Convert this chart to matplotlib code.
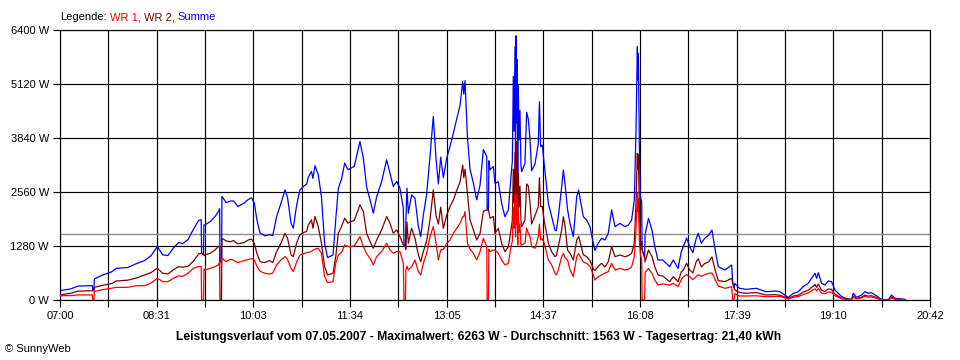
import matplotlib
matplotlib.use("Agg")
import matplotlib.pyplot as plt
import numpy as np

plt.rcParams['font.family'] = ['Liberation Sans', 'DejaVu Sans']

# time in minutes after 07:00
minutes = [
    0, 10, 17, 30.5, 31, 32, 32.5, 39, 49, 53, 64, 72, 80, 86, 92, 97, 102, 107, 112, 116,
    121, 126, 131, 133.4, 133.8, 135.6, 136,
    137, 142, 146.5, 149.6, 150.8, 151.2, 152.6, 153, 157, 161, 164, 168, 174, 178, 181, 183.6,
    186, 189, 193.7, 198, 201, 204.7, 208.8, 212.6, 215, 218.3, 220.4, 223.6, 226.6, 229.9, 233,
    234.6, 237.6, 239, 240.9, 244, 247, 250, 252.8, 258, 260.5, 263, 266, 269, 272, 275, 278,
    283.4, 286.6, 289.7, 292.9, 296.0, 299.2, 303.9, 308.6, 311.8, 314.9, 318.1, 321.2, 324.4,
    325.0, 326.4, 326.8, 327.8, 329.1, 332.2, 335.4, 338.6, 340.8, 343.3, 346.4, 349.6, 352.7,
    355.3, 357.5, 359.7, 362.2, 365.4, 368.5, 371.7, 374.9, 378.0, 380.5, 381.5, 382.7, 385.0,
    387.4, 390.6, 393.7, 396.9, 400.0, 403.2, 403.6, 404.8, 405.2, 406.3, 409.5,
    411.0, 414.1, 417.3, 420.4, 423.6, 426.1, 427.4, 428.3, 429.0, 429.9, 430.4, 430.8, 431.5,
    431.8, 432.5, 433.0, 433.7, 434.6, 435.5, 436.2, 439.3, 440.9, 442.5, 444.1, 445.6, 448.8,
    451.9, 453.0, 454.1, 455.7, 457.6, 459.8, 461.4, 464.5, 467.7, 469.0, 470.8, 474.0, 475.6,
    477.1, 479.6, 481.9, 485.0, 488.2, 490.0, 492.2, 494.4, 497.6, 500.7, 503.9, 505.4, 508.6,
    511.7, 514.9, 518.0, 521.2, 524.4, 529.1, 533.8, 537.0, 540.1, 542.6, 544.2, 545.5, 546.0,
    546.4, 547.4, 548.3, 549.6, 550.0, 552.4, 552.8, 556.0, 559.3, 562.0, 565.0, 569.6, 576.0,
    579.4, 584.0, 587.0, 589.0, 592.0, 595.0, 598.0, 601.0, 603.0, 606.0, 609.0, 613.0, 616.0,
    619.0, 622.0, 628.3, 634.6, 635.6, 636.8, 637.5, 642.0, 648.0, 658.0, 667.0, 676.0,
    680.0, 684.8, 688.0, 692.9, 697.6, 702.0, 706.9, 710.0, 713.3, 714.9, 716.5, 719.6, 722.8,
    725.9, 729.0, 732.2, 735.3, 738.5, 743.2, 747.9, 749.5, 752.6, 757.4, 760.5, 763.7, 766.8,
    771.5, 776.2, 782.5, 785.7, 788.8, 798.3,
]

wr1 = [
    103, 103, 120, 120, 0, 0, 200, 240, 280, 300, 300, 340, 341, 400, 515, 436, 436, 515, 571, 560,
    634, 753, 793, 793, 0, 0, 730,
    712, 752, 790, 831, 900, 900, 900, 990, 910, 966, 940, 887, 934, 960, 982, 950,
    800, 680, 633, 615, 640, 831, 950, 1029, 960, 750, 673, 900, 1060, 1092, 1124,
    1130, 1148, 1180, 1203, 1227, 1108, 554, 412, 435, 871, 1069, 1124, 1306, 1267, 1267, 1282,
    1503, 1266, 1100, 989, 831, 1029, 1147, 1345, 1187, 1108, 1150, 1147, 870,
    0, 0, 712, 800, 712, 791, 950, 673, 593, 870, 1100, 1503, 1741,
    1345, 950, 1187, 1200, 1345, 1424, 1583, 1700, 1820, 1978, 1978, 2097, 1345,
    1200, 1108, 950, 1147, 1464, 1266, 0, 0, 1200, 1147, 1187,
    1185, 1106, 948, 830, 869, 1264, 1400, 2200, 1700, 2500, 1500, 2500, 1800,
    2400, 1300, 2100, 1600, 1800, 1300, 1304, 1343, 1700, 1580, 1500, 1264, 1225,
    1501, 1800, 1422, 1450, 1343, 1106, 948, 830, 632, 593, 711, 1027, 1106,
    1000, 948, 711, 553, 1027, 1100, 1000, 900, 869, 800, 600, 474, 553,
    593, 640, 672, 869, 711, 750, 711, 727, 790, 1027, 1659, 2530, 2100,
    2400, 1400, 1100, 948, 0, 0, 650, 750, 632, 474, 355, 380, 355,
    395, 316, 480, 553, 600, 553, 480, 550, 600, 560, 600, 632, 640,
    480, 330, 276, 316, 0, 0, 150, 95, 95, 100, 79, 85,
    85, 48, 25, 65, 82, 130, 165, 215, 265, 215, 272, 165, 150,
    190, 182, 100, 66, 33, 13, 7, 66, 26, 50, 83, 66, 73,
    40, 7, 0, 50, 17, 7,
]

wr2 = [
    119, 159, 210, 220, 220, 225, 300, 340, 390, 450, 470, 520, 595, 650, 753, 634, 618, 714, 790, 777,
    800, 920, 1094, 1110, 1110, 1080, 1050,
    1069, 1108, 1187, 1267, 1267, 0, 0, 1464, 1400, 1380, 1409, 1330, 1362, 1425, 1441, 1346,
    1108, 910, 887, 934, 887, 1150, 1346, 1583, 1464, 1069, 1029, 1350, 1544, 1599, 1623,
    1781, 1900, 1702, 1979, 1742, 1346, 792, 594, 633, 1029, 1583, 1742, 1940, 1821, 1860, 1884,
    2255, 2100, 1583, 1385, 1227, 1420, 1662, 1978, 1820, 1583, 1662, 1503, 1306,
    1306, 1250, 1200, 1850, 1345, 1700, 1464, 1068, 910, 1147, 1400, 1900, 2611,
    2000, 1800, 2200, 1700, 2018, 2216, 2374, 2600, 2800, 3200, 2900, 3102, 2500,
    1899, 1662, 1424, 1583, 2100, 2137, 2137, 2137, 2100, 1939, 1978,
    1580, 1698, 1343, 1145, 1264, 1659, 1900, 3100, 2300, 3500, 1800, 3763, 2400,
    3300, 1700, 3000, 2200, 2700, 1900, 1738, 1896, 2750, 2700, 2300, 1800, 2000,
    2212, 2900, 2212, 2220, 1857, 1580, 1343, 1145, 1027, 1050, 1264, 1659, 1975,
    1765, 1185, 1106, 948, 1422, 1507, 1291, 1075, 1027, 938, 743, 700, 800,
    870, 782, 908, 1264, 1027, 1066, 1027, 1050, 1106, 1343, 2300, 3476, 3100,
    3446, 2234, 1350, 1382, 1200, 1000, 900, 1185, 1027, 790, 593, 568, 434,
    553, 434, 665, 711, 869, 711, 640, 900, 980, 783, 862, 908, 1019,
    705, 460, 435, 514, 400, 300, 240, 181, 158, 176, 118, 128,
    112, 70, 38, 93, 115, 186, 230, 298, 367, 298, 376, 230, 205,
    260, 252, 137, 92, 46, 19, 9, 92, 37, 68, 114, 92, 101,
    55, 9, 0, 68, 23, 9,
]

summe = [a + b for a, b in zip(wr1, wr2)]

average_w = 1563
max_w = 6263
day_kwh = "21,40"
date_str = "07.05.2007"

x_tick_labels = ['07:00', '08:31', '10:03', '11:34', '13:05', '14:37', '16:08', '17:39', '19:10', '20:42']
y_ticks = [0, 1280, 2560, 3840, 5120, 6400]
y_tick_labels = ['0 W', '1280 W', '2560 W', '3840 W', '5120 W', '6400 W']
x_end = 822  # 20:42 in minutes after 07:00

fig = plt.figure(figsize=(9.6, 3.6), dpi=100)
ax = fig.add_axes([60/960, 60/360, 870/960, 270/360])

ax.plot(minutes, summe, color='#0000FF', lw=0.9, zorder=3)
ax.plot(minutes, wr2, color='#800000', lw=0.9, zorder=4)
ax.plot(minutes, wr1, color='#FF0000', lw=0.9, zorder=5)
ax.axhline(average_w, color='#8C8C8C', lw=1.0, zorder=2)

ax.set_xlim(0, x_end)
ax.set_ylim(0, 6400)
major = np.linspace(0, x_end, len(x_tick_labels))
minor = (major[:-1] + major[1:]) / 2
ax.set_xticks(major)
ax.set_xticklabels(x_tick_labels)
ax.set_xticks(minor, minor=True)
ax.set_yticks(y_ticks)
ax.set_yticklabels(y_tick_labels)
ax.grid(True, which='both', color='black', lw=0.85, zorder=1)
ax.set_axisbelow(True)
ax.tick_params(which='both', direction='out', length=5, width=0.85, color='black',
               labelsize=8, pad=3)
for s in ax.spines.values():
    s.set_linewidth(0.85)
    s.set_color('black')

# legend line
r = fig.canvas.get_renderer()
parts = [("Legende:", 'black'), ("WR 1,", '#FF0000'), ("WR 2,", '#800000'), ("Summe", '#0000FF')]
xpix = 60
for s, c in parts:
    t = fig.text(xpix/960, (360-17)/360, s, color=c, fontsize=8, va='center', ha='left')
    bb = t.get_window_extent(renderer=r)
    xpix = bb.x1 + 3.0

fig.text(479/960, (360-337)/360,
         f"Leistungsverlauf vom {date_str} - Maximalwert: {max_w} W - Durchschnitt: {average_w} W - Tagesertrag: {day_kwh} kWh",
         ha='center', va='center', fontsize=8.7, fontweight='bold')
fig.text(5/960, (360-349)/360, "© SunnyWeb", ha='left', va='center', fontsize=8)

fig.savefig('out.png', dpi=100)
